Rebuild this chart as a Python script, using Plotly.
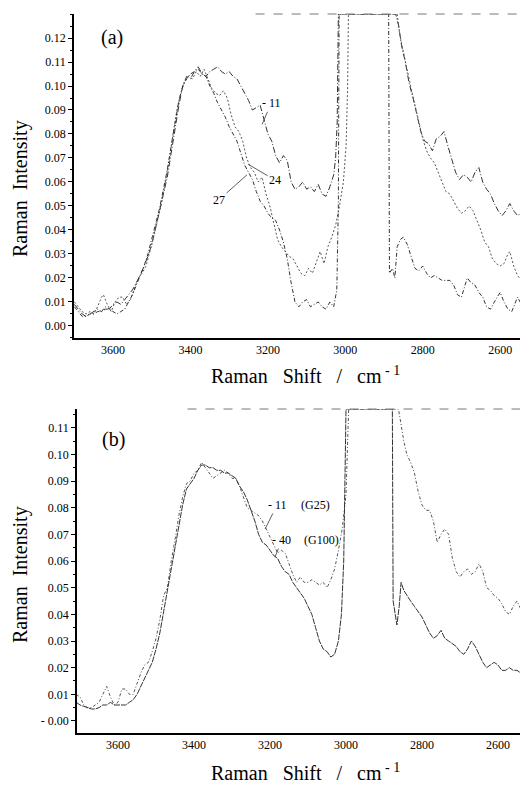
import plotly.graph_objects as go

# ---------------- data: (wavenumber cm-1, Raman intensity) ----------------
# panel (a)
A_M11 = [(3700,.009),(3690,.007),(3680,.005),(3670,.004),(3660,.005),(3650,.006),(3640,.007),(3630,.006),
         (3620,.008),(3610,.007),(3600,.009),(3590,.010),(3580,.009),(3570,.011),(3560,.013),(3550,.015),
         (3540,.018),(3530,.021),(3520,.025),(3510,.029),(3500,.034),(3490,.041),(3480,.047),(3470,.054),
         (3460,.062),(3450,.072),(3440,.082),(3430,.092),(3420,.100),(3410,.104),(3400,.103),(3390,.106),
         (3380,.108),(3370,.105),(3360,.104),(3350,.106),(3340,.107),(3330,.108),(3320,.106),(3310,.105),
         (3300,.106),(3290,.104),(3280,.103),(3270,.100),(3260,.097),(3250,.094),(3240,.090),(3230,.091),
         (3220,.092),(3210,.086),(3200,.080),(3190,.077),(3180,.071),(3170,.068),(3160,.071),(3150,.069),
         (3140,.060),(3130,.057),(3120,.058),(3110,.060),(3100,.057),(3090,.058),(3080,.056),(3070,.059),
         (3060,.055),(3050,.054),(3040,.058),(3030,.063),(3025,.070),(3021,.085),(3018,.130),(2990,.130),
         (2950,.130),(2910,.130),(2870,.130),(2862,.125),(2855,.117),(2845,.110),(2835,.101),(2825,.095),
         (2815,.088),(2805,.081),(2795,.077),(2785,.076),(2775,.073),(2765,.078),(2755,.079),(2745,.081),
         (2735,.075),(2725,.070),(2715,.064),(2705,.061),(2695,.063),(2685,.062),(2675,.060),(2665,.064),
         (2655,.066),(2645,.060),(2635,.057),(2625,.055),(2615,.051),(2605,.048),(2595,.046),(2585,.048),
         (2575,.051),(2565,.048),(2555,.046),(2545,.047),(2535,.045),(2525,.044)]

A_24 = [(3700,.010),(3690,.008),(3680,.006),(3670,.005),(3660,.006),(3650,.005),(3640,.008),(3630,.012),
        (3625,.013),(3615,.009),(3605,.006),(3595,.010),(3585,.012),(3575,.012),(3565,.009),(3555,.011),
        (3545,.016),(3535,.020),(3525,.022),(3515,.025),(3505,.031),(3495,.037),(3485,.044),(3475,.051),
        (3465,.060),(3455,.069),(3445,.080),(3435,.090),(3425,.097),(3415,.102),(3405,.104),(3395,.103),
        (3385,.106),(3375,.104),(3365,.107),(3355,.103),(3345,.099),(3335,.097),(3325,.096),(3315,.098),
        (3305,.095),(3295,.088),(3285,.083),(3275,.081),(3265,.077),(3255,.070),(3245,.066),(3235,.064),
        (3225,.060),(3215,.062),(3205,.055),(3195,.050),(3185,.043),(3175,.036),(3165,.033),(3155,.031),
        (3145,.029),(3135,.028),(3125,.025),(3115,.022),(3105,.021),(3095,.024),(3085,.022),(3075,.027),
        (3065,.031),(3055,.026),(3045,.033),(3035,.037),(3025,.042),(3015,.050),(3005,.060),(2998,.075),
        (2994,.100),(2992,.130),(2950,.130),(2910,.130),(2866,.130),(2860,.122),(2850,.114),(2840,.106),
        (2830,.099),(2820,.092),(2810,.085),(2800,.078),(2790,.073),(2780,.070),(2770,.068),(2760,.064),
        (2750,.060),(2740,.056),(2730,.055),(2720,.052),(2710,.049),(2700,.047),(2690,.048),(2680,.050),
        (2670,.048),(2660,.044),(2650,.040),(2640,.035),(2630,.033),(2620,.028),(2610,.026),(2600,.025),
        (2590,.026),(2580,.030),(2575,.031),(2565,.025),(2555,.021),(2545,.019),(2535,.018),(2525,.017)]

A_27 = [(3700,.008),(3690,.006),(3680,.004),(3670,.004),(3660,.005),(3650,.005),(3640,.006),(3630,.006),
        (3620,.007),(3610,.007),(3600,.006),(3590,.005),(3580,.006),(3570,.007),(3560,.010),(3550,.013),
        (3540,.017),(3530,.021),(3520,.025),(3510,.030),(3500,.036),(3490,.042),(3480,.049),(3470,.057),
        (3460,.065),(3450,.075),(3440,.085),(3430,.094),(3420,.100),(3410,.103),(3400,.105),(3390,.106),
        (3380,.107),(3370,.105),(3360,.104),(3350,.100),(3340,.097),(3330,.093),(3320,.090),(3310,.087),
        (3300,.083),(3290,.080),(3280,.077),(3270,.072),(3260,.067),(3250,.064),(3240,.061),(3230,.056),
        (3220,.052),(3210,.050),(3200,.047),(3190,.045),(3180,.044),(3170,.040),(3160,.035),(3150,.028),
        (3140,.018),(3130,.010),(3120,.008),(3110,.010),(3100,.011),(3090,.008),(3080,.009),(3070,.010),
        (3060,.008),(3050,.007),(3040,.010),(3030,.008),(3022,.015),(3018,.050),(3016,.130),(2950,.130),
        (2888,.130),(2886,.022),(2878,.024),(2872,.020),(2866,.033),(2858,.036),(2850,.037),(2840,.034),
        (2830,.029),(2820,.024),(2810,.023),(2800,.025),(2790,.022),(2780,.020),(2770,.021),(2760,.020),
        (2750,.019),(2740,.019),(2730,.019),(2720,.017),(2710,.013),(2700,.012),(2690,.018),(2685,.020),
        (2675,.018),(2665,.017),(2655,.014),(2645,.012),(2635,.008),(2625,.007),(2615,.010),(2605,.013),
        (2600,.014),(2590,.010),(2580,.007),(2570,.006),(2560,.010),(2555,.012),(2545,.009),(2535,.006),
        (2525,.005)]

# panel (b)
B_M11 = [(3710,.010),(3700,.009),(3690,.006),(3680,.005),(3670,.005),(3660,.006),(3650,.007),(3640,.010),
         (3630,.013),(3620,.009),(3610,.006),(3600,.007),(3590,.012),(3580,.012),(3570,.010),(3560,.010),
         (3550,.014),(3540,.018),(3530,.021),(3520,.022),(3510,.026),(3500,.031),(3490,.038),(3480,.047),
         (3470,.050),(3460,.060),(3450,.068),(3440,.077),(3430,.084),(3420,.089),(3410,.090),(3400,.093),
         (3390,.094),(3380,.097),(3370,.095),(3360,.093),(3350,.091),(3340,.092),(3330,.093),(3320,.094),
         (3310,.093),(3300,.091),(3290,.091),(3280,.088),(3270,.084),(3260,.080),(3250,.079),(3240,.078),
         (3230,.077),(3220,.075),(3210,.072),(3200,.069),(3190,.066),(3180,.063),(3170,.064),(3160,.063),
         (3150,.059),(3140,.055),(3130,.052),(3120,.054),(3110,.052),(3100,.052),(3090,.053),(3080,.052),
         (3070,.051),(3060,.052),(3050,.050),(3040,.053),(3030,.057),(3020,.064),(3010,.072),(3000,.085),
         (2996,.100),(2993,.117),(2950,.117),(2862,.117),(2856,.112),(2848,.105),(2840,.100),(2830,.097),
         (2820,.093),(2810,.086),(2800,.081),(2790,.079),(2780,.079),(2770,.075),(2760,.067),(2750,.070),
         (2740,.072),(2730,.070),(2720,.061),(2710,.056),(2700,.054),(2690,.056),(2680,.057),(2670,.055),
         (2660,.056),(2650,.059),(2640,.056),(2630,.050),(2620,.049),(2610,.047),(2600,.046),(2590,.044),
         (2580,.041),(2570,.040),(2560,.043),(2550,.045),(2540,.042),(2530,.040),(2520,.040)]

B_M40 = [(3710,.007),(3700,.006),(3690,.0055),(3680,.005),(3670,.0045),(3660,.0045),(3650,.005),(3640,.006),
         (3630,.006),(3620,.007),(3610,.006),(3600,.006),(3590,.006),(3580,.006),(3570,.007),(3560,.008),
         (3550,.010),(3540,.013),(3530,.016),(3520,.019),(3510,.022),(3500,.027),(3490,.033),(3480,.041),
         (3470,.049),(3460,.058),(3450,.066),(3440,.074),(3430,.081),(3420,.087),(3410,.089),(3400,.091),
         (3390,.094),(3380,.096),(3370,.096),(3360,.095),(3350,.095),(3340,.094),(3330,.094),(3320,.093),
         (3310,.093),(3300,.092),(3290,.091),(3280,.088),(3270,.086),(3260,.083),(3250,.079),(3240,.075),
         (3230,.070),(3220,.067),(3210,.066),(3200,.064),(3190,.062),(3180,.061),(3170,.058),(3160,.056),
         (3150,.055),(3140,.052),(3130,.050),(3120,.048),(3110,.046),(3100,.043),(3090,.040),(3080,.035),
         (3070,.030),(3060,.027),(3050,.026),(3040,.024),(3030,.025),(3020,.030),(3012,.040),(3006,.060),
         (3003,.085),(3000,.117),(2950,.117),(2878,.117),(2876,.045),(2870,.040),(2866,.036),(2860,.043),
         (2855,.052),(2848,.049),(2840,.047),(2830,.045),(2820,.043),(2810,.041),(2800,.039),(2790,.036),
         (2780,.033),(2770,.031),(2760,.032),(2750,.034),(2740,.031),(2730,.030),(2720,.029),(2710,.028),
         (2700,.026),(2690,.025),(2680,.027),(2670,.030),(2660,.028),(2650,.025),(2640,.022),(2630,.020),
         (2620,.021),(2610,.022),(2600,.021),(2590,.019),(2580,.019),(2570,.020),(2560,.019),(2550,.019),
         (2540,.018),(2530,.017),(2520,.017)]

X_TICKS = [3600, 3400, 3200, 3000, 2800, 2600]
X_TICKTEXT = ["3600", "3400", "3200", "3000", "2800", "2600"]
A_YTICKS = [0.00, 0.01, 0.02, 0.03, 0.04, 0.05, 0.06, 0.07, 0.08, 0.09, 0.10, 0.11, 0.12]
A_YTICKTEXT = ["0.00", "0.01", "0.02", "0.03", "0.04", "0.05", "0.06", "0.07", "0.08", "0.09", "0.10", "0.11", "0.12"]
B_YTICKS = [0.00, 0.01, 0.02, 0.03, 0.04, 0.05, 0.06, 0.07, 0.08, 0.09, 0.10, 0.11]
B_YTICKTEXT = ["- 0.00", "0.01", "0.02", "0.03", "0.04", "0.05", "0.06", "0.07", "0.08", "0.09", "0.10", "0.11"]

SERIF = "Liberation Serif, Times New Roman, serif"

fig = go.Figure()


def add(curve, xa, ya, dash, color):
    fig.add_trace(go.Scatter(
        x=[p[0] for p in curve], y=[p[1] for p in curve], mode="lines",
        xaxis=xa, yaxis=ya, showlegend=False, hoverinfo="skip",
        line=dict(color=color, width=1, dash=dash)))


add(A_M11, "x", "y", "6px,2px,1px,2px", "#333")
add(A_24, "x", "y", "2px,2px", "#555")
add(A_27, "x", "y", "4px,2px,1px,2px", "#333")
add(B_M11, "x2", "y2", "3px,2px,1px,2px", "#555")
add(B_M40, "x2", "y2", "6px,1px", "#333")

tickfont = dict(family=SERIF, size=12, color="black")
xcommon = dict(showgrid=False, zeroline=False, showline=True, linecolor="black", linewidth=1.5,
               ticks="", tickmode="array", tickvals=X_TICKS, ticktext=X_TICKTEXT, tickfont=tickfont)
ycommon = dict(showgrid=False, zeroline=False, showline=True, linecolor="black", linewidth=1.5,
               ticks="outside", ticklen=4, tickcolor="black", tickwidth=1, tickmode="array", tickfont=tickfont,
               minor=dict(ticks="outside", ticklen=2, tickcolor="black", dtick=0.005, tick0=0))

# the page body keeps an 8px margin, so the figure is sized 8px smaller than the window
fig.update_layout(
    width=520, height=777, margin=dict(l=66, r=0, t=6, b=52),
    paper_bgcolor="white", plot_bgcolor="white", showlegend=False,
    xaxis=dict(domain=[0, 1], range=[3701, 2528], anchor="y", **xcommon),
    yaxis=dict(domain=[0.5494, 1], range=[-0.005, 0.13], anchor="x",
               tickvals=A_YTICKS, ticktext=A_YTICKTEXT, **ycommon),
    xaxis2=dict(domain=[0.0066, 1], range=[3708, 2521], anchor="y2", **xcommon),
    yaxis2=dict(domain=[0, 0.4506], range=[-0.0045, 0.117], anchor="x2",
                tickvals=B_YTICKS, ticktext=B_YTICKTEXT, **ycommon),
)

# faint top frame segments
fig.add_shape(type="line", xref="paper", yref="paper", x0=0.40, x1=1, y0=1, y1=1,
              line=dict(color="#777", width=1, dash="dash"))
fig.add_shape(type="line", xref="paper", yref="paper", x0=0.25, x1=1, y0=0.4506, y1=0.4506,
              line=dict(color="#777", width=1, dash="dash"))

NB = "\u00a0"
xtitle = f"Raman{NB*3}Shift{NB*3}/{NB*3}cm<sup> - 1</sup>"
ytitle = f"Raman{NB*2}Intensity"
tfont = dict(family=SERIF, size=20, color="black")
lfont = dict(family=SERIF, size=12, color="black")

anns = [
    dict(text=xtitle, xref="paper", yref="paper", x=0.509, y=(733 - 375) / 719, showarrow=False,
         xanchor="center", yanchor="middle", font=tfont),
    dict(text=xtitle, xref="paper", yref="paper", x=0.509, y=(733 - 772) / 719, showarrow=False,
         xanchor="center", yanchor="middle", font=tfont),
    dict(text=ytitle, xref="paper", yref="paper", x=(20 - 74) / 454, y=(733 - 189) / 719, showarrow=False,
         textangle=-90, xanchor="center", yanchor="middle", font=tfont),
    dict(text=ytitle, xref="paper", yref="paper", x=(20 - 74) / 454, y=(733 - 575) / 719, showarrow=False,
         textangle=-90, xanchor="center", yanchor="middle", font=tfont),
    dict(text="(a)", xref="paper", yref="paper", x=(112 - 74) / 454, y=(733 - 37) / 719, showarrow=False,
         xanchor="center", yanchor="middle", font=dict(family=SERIF, size=20, color="black")),
    dict(text="(b)", xref="paper", yref="paper", x=(113 - 74) / 454, y=(733 - 440) / 719, showarrow=False,
         xanchor="center", yanchor="middle", font=dict(family=SERIF, size=20, color="black")),
    # curve labels, panel (a)
    dict(text="- 11", xref="x", yref="y", x=3215, y=0.084, ax=9, ay=-21, showarrow=True, arrowhead=0,
         arrowwidth=0.8, arrowcolor="#333", font=lfont),
    dict(text="24", xref="x", yref="y", x=3251, y=0.0674, ax=27, ay=16, showarrow=True, arrowhead=0,
         arrowwidth=0.8, arrowcolor="#333", font=lfont),
    dict(text="27", xref="x", yref="y", x=3254, y=0.063, ax=-28, ay=25, showarrow=True, arrowhead=0,
         arrowwidth=0.8, arrowcolor="#333", font=lfont),
    # curve labels, panel (b)
    dict(text="- 11", xref="x2", yref="y2", x=3213, y=0.072, ax=12, ay=-24, showarrow=True, arrowhead=0,
         arrowwidth=0.8, arrowcolor="#333", font=lfont),
    dict(text="(G25)", xref="x2", yref="y2", x=3213, y=0.072, xshift=50, yshift=24, showarrow=False,
         font=lfont),
    dict(text="- 40", xref="x2", yref="y2", x=3187, y=0.0615, ax=7, ay=-17, showarrow=True, arrowhead=0,
         arrowwidth=0.8, arrowcolor="#333", font=lfont),
    dict(text="(G100)", xref="x2", yref="y2", x=3187, y=0.0615, xshift=47, yshift=17, showarrow=False,
         font=lfont),
]
fig.update_layout(annotations=anns)

fig.write_html("out.html")
